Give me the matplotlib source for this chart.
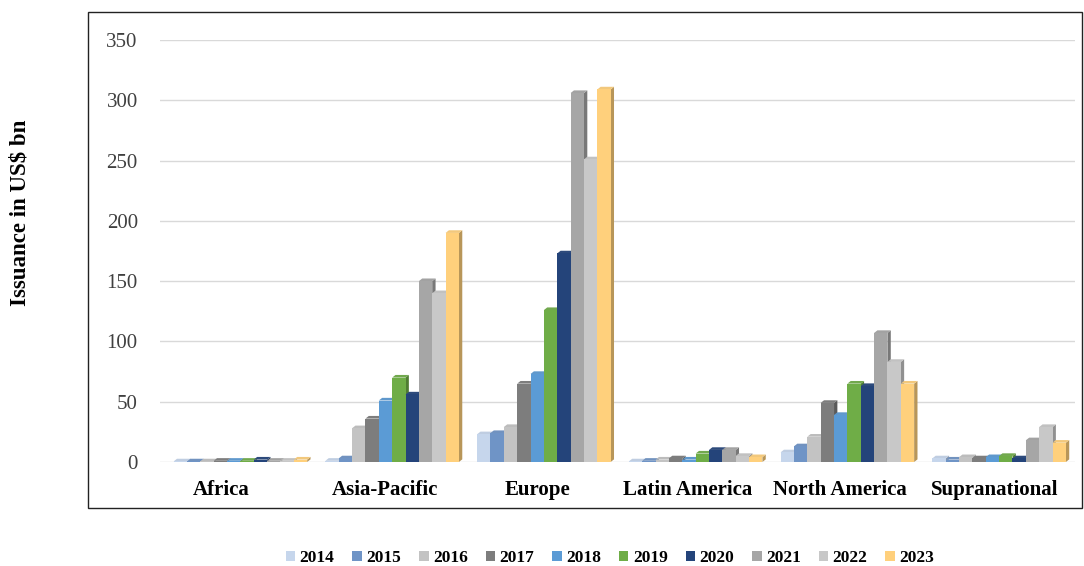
import numpy as np
import matplotlib.pyplot as plt
from matplotlib.patches import Polygon, Rectangle
from matplotlib.colors import to_rgb

plt.rcParams["font.family"] = ["Liberation Serif", "DejaVu Serif"]

regions = ["Africa", "Asia-Pacific", "Europe", "Latin America", "North America", "Supranational"]
years = ["2014", "2015", "2016", "2017", "2018", "2019", "2020", "2021", "2022", "2023"]

# issuance in US$ bn, one list per year, in region order
y2014 = [0.5, 1, 23, 0.5, 8, 3]
y2015 = [0.5, 3, 24, 1, 13, 2]
y2016 = [0.5, 28, 29, 2, 21, 4]
y2017 = [1, 36, 65, 3, 49, 3]
y2018 = [1, 51, 73, 2, 39, 4]
y2019 = [1, 70, 126, 7, 65, 5]
y2020 = [2, 56, 173, 10, 63, 3]
y2021 = [1, 150, 306, 10, 107, 18]
y2022 = [1, 140, 251, 5, 83, 29]
y2023 = [2, 190, 309, 4, 65, 16]
series = [y2014, y2015, y2016, y2017, y2018, y2019, y2020, y2021, y2022, y2023]

colors = ["#c6d6ec", "#6f94c6", "#c3c3c3", "#7d7d7d", "#5b9bd5",
          "#6fad47", "#24447a", "#a6a6a6", "#c8c8c8", "#ffd07c"]

fig = plt.figure(figsize=(10.84, 5.66), dpi=100)
ax = fig.add_axes([160 / 1084, 1 - 462 / 566, (1075 - 160) / 1084, (462 - 40) / 566])

# chart frame
fig.patches.append(Rectangle((88 / 1084, 1 - 508 / 566), (1082 - 88) / 1084, (508 - 12) / 566,
                             transform=fig.transFigure, fill=False, edgecolor="#222222",
                             linewidth=1.0))

n = len(series)
width = 0.088
dx, dy = 0.022, 2.2
x = np.arange(len(regions))

for i, (vals, col) in enumerate(zip(series, colors)):
    rgb = np.array(to_rgb(col))
    side = rgb * 0.72
    top = np.minimum(rgb * 0.9 + 0.05, 1)
    for xc, v in zip(x, vals):
        x0 = xc + (i - n / 2) * width
        x1 = x0 + width
        ax.add_patch(Polygon([(x1, 0), (x1 + dx, dy), (x1 + dx, v + dy), (x1, v)],
                             closed=True, facecolor=side, edgecolor="none", zorder=3))
        ax.add_patch(Polygon([(x0, v), (x0 + dx, v + dy), (x1 + dx, v + dy), (x1, v)],
                             closed=True, facecolor=top, edgecolor="none", zorder=3))
        ax.bar(x0, v, width=width, align="edge", color=col, zorder=3, linewidth=0)

for i, col in enumerate(colors):
    ax.bar([np.nan], [np.nan], color=col, label=years[i])

ax.set_xlim(-0.53, 5.5)
ax.set_ylim(0, 350)
ax.set_yticks(range(0, 351, 50))
ax.yaxis.grid(True, color="#d9d9d9", linewidth=1.0, zorder=0)
ax.set_axisbelow(True)
for s in ax.spines.values():
    s.set_visible(False)
ax.tick_params(axis="y", length=0, pad=16, labelsize=15, labelcolor="#404040")
ax.tick_params(axis="x", length=0, pad=13)
ax.set_xticks(x - np.array([0.13, 0.05, 0.04, 0.05, 0.05, 0.03]))
ax.set_xticklabels(regions, fontsize=15, fontweight="bold")

fig.text(20 / 1084, 1 - 213 / 566, "Issuance in US$ bn", rotation=90, ha="center", va="center",
         fontsize=16.5, fontweight="bold")

fig.legend(loc="center", bbox_to_anchor=(610 / 1084, 1 - 558 / 566), ncol=10, frameon=False,
           prop={"weight": "bold", "size": 12.5}, handlelength=0.55, handleheight=0.55,
           handletextpad=0.25, columnspacing=1.03)

fig.savefig("out.png", dpi=100)
